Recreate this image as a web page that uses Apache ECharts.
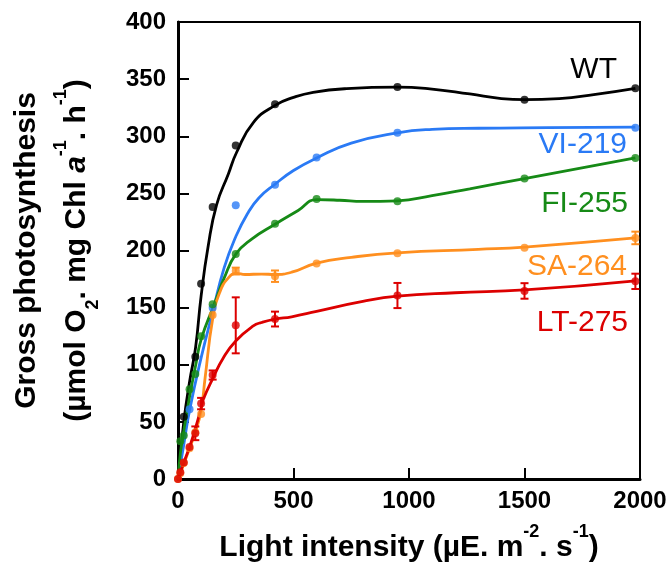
<!DOCTYPE html>
<html>
<head>
<meta charset="utf-8">
<script src="https://cdn.jsdelivr.net/npm/echarts@6/dist/echarts.min.js"></script>
<style>
  html, body { margin: 0; padding: 0; background: #fff; }
  #chart { width: 670px; height: 568px; }
</style>
</head>
<body>
<div id="chart"></div>
<script>
// Light response of gross photosynthesis for the wild type and four mutant lines.

// Axis ticks
const xTicks = [0, 500, 1000, 1500, 2000];
const yTicks = [0, 50, 100, 150, 200, 250, 300, 350, 400];

// Strain names
const strains = ['WT', 'VI-219', 'FI-255', 'SA-264', 'LT-275'];

// Measured points: light intensity, rate, standard deviation
const wtX = [25, 75, 100, 150, 250, 420, 950, 1500, 1980];
const wtY = [54.5, 107, 171, 238, 292, 328, 343, 332, 342];

const viX = [50, 150, 250, 420, 600, 950, 1980];
const viY = [61, 150, 239.5, 257.5, 281.5, 303, 307.5];

const fiX = [10, 25, 50, 75, 100, 150, 250, 420, 600, 950, 1500, 1980];
const fiY = [33, 38, 78.5, 92, 125, 153, 197, 223.5, 245, 243, 263, 281];

const saX = [0, 10, 25, 50, 75, 100, 150, 250, 420, 600, 950, 1500, 1980];
const saY = [0, 5, 14, 27, 41, 57, 143.5, 182, 177.5, 188.7, 197.5, 202.3, 211];
const saErr = [0, 0, 0, 0, 0, 0, 0, 3, 5, 0, 0, 0, 5.5];

const ltX = [0, 10, 25, 50, 75, 100, 150, 250, 420, 950, 1500, 1980];
const ltY = [0, 6, 14.5, 28, 40, 66, 91, 134.5, 140, 160.6, 164.6, 173];
const ltErr = [0, 0, 0, 0, 6, 5, 4, 24.5, 6.5, 11, 6.8, 6.7];

// Fitted light-response curves
const wtCurveX = [0, 25, 50, 76, 100, 130, 167, 218, 254, 326, 420, 500, 585, 730, 950, 1090, 1263, 1400, 1500, 1650, 1800, 1980];
const wtCurveY = [0, 50, 85, 115, 160, 203, 240, 267, 286, 312, 327, 334, 338.5, 341.7, 343, 341.5, 337, 333, 332, 333, 336.5, 342];

const viCurveX = [0, 25, 50, 100, 150, 200, 250, 300, 350, 420, 500, 600, 750, 950, 1100, 1300, 1600, 1980];
const viCurveY = [0, 30, 60, 106, 146, 185, 212, 232, 246, 258, 270, 281, 294, 303, 306, 307, 307.5, 308];

const fiCurveX = [0, 10, 25, 50, 75, 100, 157, 200, 251, 319, 420, 520, 600, 700, 800, 950, 1100, 1263, 1500, 1980];
const fiCurveY = [0, 22, 42, 72, 98, 122, 153, 176, 197, 210, 223, 235, 244.5, 244, 243, 243.5, 248, 254, 263, 281];

const saCurveX = [0, 25, 50, 75, 100, 117, 150, 180, 218, 254, 290, 362, 420, 492, 600, 750, 950, 1300, 1500, 1980];
const saCurveY = [0, 13, 27, 41, 60, 88, 140, 163, 176, 180, 179, 179.4, 179, 181, 189, 194, 198, 201, 203, 211];

const ltCurveX = [0, 10, 25, 50, 75, 100, 110, 153, 196, 251, 326, 362, 420, 492, 600, 800, 950, 1200, 1500, 1980];
const ltCurveY = [0, 6, 14.5, 28, 44, 62, 70, 89, 106, 121, 134, 137, 140, 142, 146.7, 155.4, 160, 163, 165.5, 173.5];

const FONT = '"Liberation Sans", Arial, sans-serif';
const colors = ['#000000', '#2A7AF5', '#168A16', '#FF8F1F', '#DC0000'];

const zip = (xs, ys) => xs.map((x, i) => [x, ys[i]]);
const zip3 = (xs, ys, es) => xs.map((x, i) => [x, ys[i], es[i]]);

const curves = [
  zip(wtCurveX, wtCurveY), zip(viCurveX, viCurveY), zip(fiCurveX, fiCurveY),
  zip(saCurveX, saCurveY), zip(ltCurveX, ltCurveY)
];
const points = [
  zip(wtX, wtY), zip(viX, viY), zip(fiX, fiY), zip(saX, saY), zip(ltX, ltY)
];

const curveSeries = curves.map((d, i) => ({
  name: strains[i] + ' fit',
  type: 'line',
  data: d,
  smooth: 0.5,
  showSymbol: false,
  lineStyle: { color: colors[i], width: 2.8 },
  silent: true,
  z: 2
}));

const pointSeries = points.map((d, i) => ({
  name: strains[i],
  type: 'scatter',
  data: d,
  symbol: 'circle',
  symbolSize: 8,
  itemStyle: { color: colors[i] },
  z: 4
}));

// Vertical error bars with short caps
function errorBars(data, color) {
  return {
    type: 'custom',
    data: data.filter(d => d[2] > 0),
    z: 3,
    renderItem: function (params, api) {
      const x = api.value(0), y = api.value(1), e = api.value(2);
      const hi = api.coord([x, y + e]);
      const lo = api.coord([x, y - e]);
      const w = 4;
      const style = { stroke: color, lineWidth: 2 };
      return {
        type: 'group',
        children: [
          { type: 'line', shape: { x1: hi[0], y1: hi[1], x2: lo[0], y2: lo[1] }, style },
          { type: 'line', shape: { x1: hi[0] - w, y1: hi[1], x2: hi[0] + w, y2: hi[1] }, style },
          { type: 'line', shape: { x1: lo[0] - w, y1: lo[1], x2: lo[0] + w, y2: lo[1] }, style }
        ]
      };
    }
  };
}

const labelText = (txt, color, right, midY) => ({
  type: 'text',
  x: right,
  y: midY,
  silent: true,
  style: {
    text: txt,
    fill: color,
    font: '30px ' + FONT,
    align: 'right',
    verticalAlign: 'middle'
  }
});

const tickLabel = { fontSize: 24, fontWeight: 'bold', color: '#000', fontFamily: FONT, formatter: v => String(v) };
const mainTitle = { fontSize: 30, fontWeight: 'bold', color: '#000', fontFamily: FONT, lineHeight: 50 };
const supStyle = { fontSize: 18, fontWeight: 'bold', color: '#000', fontFamily: FONT, verticalAlign: 'top', lineHeight: 18 };
const subStyle = { fontSize: 18, fontWeight: 'bold', color: '#000', fontFamily: FONT, verticalAlign: 'bottom', lineHeight: 18 };

const chart = echarts.init(document.getElementById('chart'), null, { renderer: 'canvas' });

chart.setOption({
  animation: false,
  backgroundColor: '#fff',
  grid: {
    left: 178, right: 30, top: 22, bottom: 86,
    show: true, borderColor: '#000', borderWidth: 2, backgroundColor: 'transparent'
  },
  xAxis: {
    type: 'value',
    min: xTicks[0],
    max: xTicks[xTicks.length - 1],
    interval: xTicks[1] - xTicks[0],
    axisLine: { show: true, lineStyle: { color: '#000', width: 3 } },
    axisTick: { show: true, inside: true, length: 11, lineStyle: { color: '#000', width: 2 } },
    axisLabel: Object.assign({ margin: 10 }, tickLabel),
    splitLine: { show: false },
    name: '{b|Light intensity (µE. m}{sup|-2}{b|. s}{sup|-1}{b|)}',
    nameLocation: 'middle',
    nameGap: 44,
    nameTextStyle: { rich: { b: mainTitle, sup: supStyle } }
  },
  yAxis: {
    type: 'value',
    min: yTicks[0],
    max: yTicks[yTicks.length - 1],
    interval: yTicks[1] - yTicks[0],
    axisLine: { show: true, lineStyle: { color: '#000', width: 3 } },
    axisTick: { show: true, inside: true, length: 11, lineStyle: { color: '#000', width: 2 } },
    axisLabel: Object.assign({ margin: 12 }, tickLabel),
    splitLine: { show: false },
    name: '{b|Gross photosynthesis}\n{b|(µmol O}{sub|2}{b|. mg Chl }{i|a}{sup|-1}{b|. h}{sup|-1}{b|)}',
    nameLocation: 'middle',
    nameRotate: 90,
    nameGap: 76,
    nameTextStyle: {
      rich: {
        b: mainTitle,
        i: Object.assign({}, mainTitle, { fontStyle: 'italic' }),
        sup: supStyle,
        sub: subStyle
      }
    }
  },
  series: [
    ...curveSeries,
    errorBars(zip3(saX, saY, saErr), colors[3]),
    errorBars(zip3(ltX, ltY, ltErr), colors[4]),
    ...pointSeries
  ],
  graphic: [
    labelText(strains[0], colors[0], 617, 69.5),
    labelText(strains[1], colors[1], 627, 144.5),
    labelText(strains[2], colors[2], 628, 203.5),
    labelText(strains[3], colors[3], 627, 267),
    labelText(strains[4], colors[4], 628, 323)
  ]
});
</script>
</body>
</html>
